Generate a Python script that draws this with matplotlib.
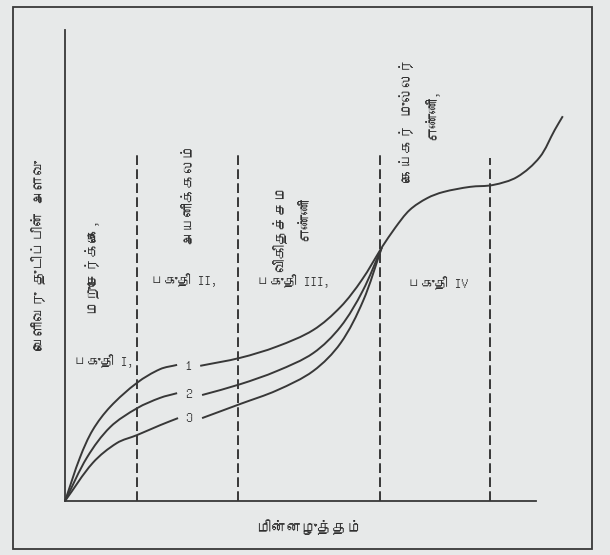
import numpy as np
import matplotlib
matplotlib.use('Agg')
import matplotlib.pyplot as plt
from matplotlib import font_manager
from matplotlib.ft2font import FT2Font
from matplotlib.path import Path
from matplotlib.patches import PathPatch, Rectangle

# look for any installed font that carries Tamil glyphs
tamil_font = None
for f in font_manager.fontManager.ttflist:
    try:
        if 0x0B95 in FT2Font(f.fname).get_charmap():
            tamil_font = f.name
            break
    except Exception:
        pass
families = ([tamil_font] if tamil_font else []) + ['DejaVu Sans']
plt.rcParams['font.family'] = families

# region boundaries (voltage) and the top of each dashed line
bound_x = [15.3, 36.7, 66.9, 90.2]
bound_top = [74.1, 73.9, 73.9, 72.8]

# curves 1..3, each drawn in two pieces (gap for the number label)
c1a_x = [0, 3.2, 5.9, 9.6, 15.3, 20.2, 23.8]
c1a_y = [0, 9.3, 15.1, 20.0, 25.1, 28.0, 28.9]
c1b_x = [28.7, 37.2, 45.0, 52.7, 58.5, 63.0, 67.3]
c1b_y = [28.7, 30.4, 32.8, 36.3, 41.2, 46.9, 53.9]

c2a_x = [0, 4.7, 9.6, 15.3, 20.2, 23.8]
c2a_y = [0, 9.3, 15.7, 19.7, 21.9, 22.9]
c2b_x = [29.1, 37.2, 45.0, 52.7, 58.5, 63.2, 67.3]
c2b_y = [22.5, 24.8, 27.6, 31.4, 37.0, 44.6, 53.9]

c3a_x = [0, 5.9, 11.0, 15.3, 20.2, 24.0]
c3a_y = [0, 8.1, 12.3, 14.0, 16.1, 17.6]
c3b_x = [29.1, 37.2, 45.0, 52.7, 58.5, 63.3, 67.3]
c3b_y = [17.6, 20.6, 23.5, 27.6, 33.5, 42.5, 53.9]

# common part after the curves meet
cm_x = [67.3, 70.1, 73.2, 76.9, 80.3, 86.0, 90.9, 96.0, 100.8, 104.0, 105.7]
cm_y = [53.9, 58.0, 61.8, 64.3, 65.6, 66.7, 67.1, 68.8, 73.0, 78.8, 81.7]

ink = '#383838'
bg = '#e7e9e9'


def smooth_path(xs, ys):
    # cubic Bezier pieces through the read points, tangents weighted by chord length
    p = np.column_stack([xs, ys]).astype(float)
    n = len(p)
    d = np.hypot(*np.diff(p, axis=0).T)
    m = np.zeros_like(p)
    m[0] = (p[1] - p[0]) / d[0]
    m[-1] = (p[-1] - p[-2]) / d[-1]
    for i in range(1, n - 1):
        m[i] = (p[i + 1] - p[i - 1]) / (d[i - 1] + d[i])
    verts = [p[0]]
    codes = [Path.MOVETO]
    for i in range(n - 1):
        verts += [p[i] + m[i] * d[i] / 3, p[i + 1] - m[i + 1] * d[i] / 3, p[i + 1]]
        codes += [Path.CURVE4] * 3
    return Path(verts, codes)


fig = plt.figure(figsize=(6.1, 5.55), dpi=100, facecolor=bg)
fig.patches.append(Rectangle((0.021, 0.011), 0.949, 0.976, transform=fig.transFigure,
                             fill=False, edgecolor=ink, linewidth=1.3))

ax = fig.add_axes([0.1066, 0.0973, 0.772, 0.8486])
ax.set_facecolor(bg)
ax.set_xlim(0, 100)
ax.set_ylim(0, 100)
for s in ['top', 'right']:
    ax.spines[s].set_visible(False)
for s in ['left', 'bottom']:
    ax.spines[s].set_color(ink)
    ax.spines[s].set_linewidth(1.3)
ax.set_xticks([])
ax.set_yticks([])

for x, top in zip(bound_x, bound_top):
    ax.plot([x, x], [0, top], color=ink, lw=1.4, ls=(0, (5, 2.2)), clip_on=False)

for xs, ys in [(c1a_x, c1a_y), (c1b_x, c1b_y), (c2a_x, c2a_y), (c2b_x, c2b_y),
               (c3a_x, c3a_y), (c3b_x, c3b_y), (cm_x, cm_y)]:
    ax.add_patch(PathPatch(smooth_path(xs, ys), fill=False, edgecolor=ink,
                           lw=1.4, clip_on=False))

tk = dict(color='#303030', fontsize=9.5, ha='center', va='center', clip_on=False)
rk = dict(tk, fontsize=10.5, rotation=90)
ax.text(-5.5, 52.2, 'வெளிவரு துடிப்பின் அளவு', **rk)
ax.text(52.0, -5.5, 'மின்னழுத்தம்', **dict(tk, fontsize=11))

ax.text(5.5, 50.1, 'மறுசேர்க்கை,', **rk)
ax.text(8.3, 29.7, 'பகுதி I,', **tk)
ax.text(26.3, 65.4, 'அயனிக்கலம்', **rk)
ax.text(25.3, 46.9, 'பகுதி II,', **tk)
ax.text(45.6, 58.0, 'விகிதச்சம', **rk)
ax.text(51.0, 59.9, 'எண்ணி', **rk)
ax.text(48.6, 46.7, 'பகுதி III,', **tk)
ax.text(72.6, 80.9, 'கெய்கர் முல்லர்', **rk)
ax.text(77.9, 82.0, 'எண்ணி,', **rk)
ax.text(79.2, 46.3, 'பகுதி IV', **tk)

num = dict(color='#303030', fontsize=10, fontweight='bold', ha='center', va='center')
ax.text(26.1, 28.7, '1', **num)
ax.text(26.3, 22.7, '2', **num)
ax.text(26.3, 17.6, '3', **num)

fig.savefig('out.png', dpi=100, facecolor=bg)
